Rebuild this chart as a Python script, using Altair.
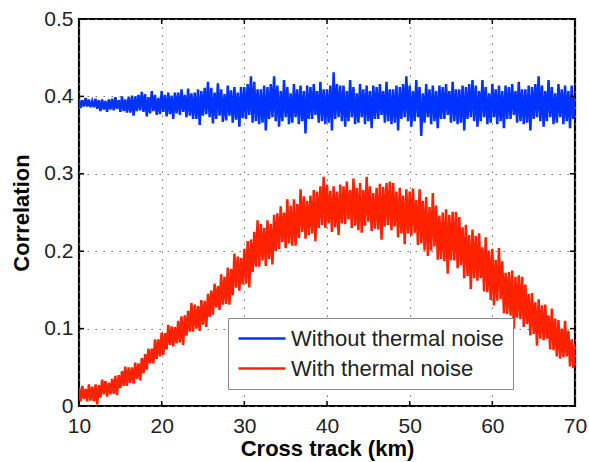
import altair as alt
import pandas as pd

# Cross-track sampling: first sample at 10 km, one sample every 0.2 km up to 70 km
x_start_km = 10.0
x_step_km = 0.2

series_names = ["Without thermal noise", "With thermal noise"]
series_colors = ["#0033FF", "#FF2200"]

x_ticks = [10, 20, 30, 40, 50, 60, 70]
y_ticks = [0, 0.1, 0.2, 0.3, 0.4, 0.5]

# Correlation without thermal noise
without_noise = [
    0.396, 0.385, 0.395, 0.387, 0.398, 0.387, 0.396, 0.386, 0.394, 0.386,
    0.397, 0.384, 0.395, 0.381, 0.396, 0.383, 0.394, 0.380, 0.396, 0.383,
    0.397, 0.382, 0.399, 0.384, 0.395, 0.380, 0.400, 0.381, 0.396, 0.379,
    0.399, 0.379, 0.401, 0.375, 0.400, 0.381, 0.402, 0.382, 0.406, 0.380,
    0.403, 0.374, 0.399, 0.378, 0.407, 0.381, 0.402, 0.376, 0.398, 0.377,
    0.407, 0.380, 0.402, 0.374, 0.405, 0.377, 0.401, 0.371, 0.405, 0.378,
    0.405, 0.376, 0.409, 0.380, 0.402, 0.373, 0.410, 0.375, 0.404, 0.371,
    0.405, 0.371, 0.409, 0.363, 0.407, 0.375, 0.411, 0.377, 0.419, 0.373,
    0.411, 0.365, 0.405, 0.371, 0.417, 0.375, 0.409, 0.367, 0.403, 0.369,
    0.414, 0.375, 0.408, 0.366, 0.412, 0.370, 0.405, 0.361, 0.412, 0.372,
    0.412, 0.371, 0.416, 0.376, 0.426, 0.366, 0.419, 0.368, 0.409, 0.364,
    0.409, 0.366, 0.414, 0.356, 0.412, 0.371, 0.416, 0.373, 0.426, 0.368,
    0.414, 0.361, 0.407, 0.368, 0.421, 0.373, 0.412, 0.364, 0.404, 0.366,
    0.416, 0.373, 0.409, 0.364, 0.414, 0.368, 0.407, 0.352, 0.414, 0.371,
    0.412, 0.371, 0.416, 0.376, 0.407, 0.366, 0.419, 0.368, 0.409, 0.364,
    0.409, 0.366, 0.414, 0.356, 0.431, 0.371, 0.416, 0.373, 0.414, 0.368,
    0.414, 0.361, 0.407, 0.368, 0.421, 0.373, 0.412, 0.364, 0.404, 0.366,
    0.416, 0.373, 0.409, 0.364, 0.414, 0.368, 0.407, 0.359, 0.414, 0.371,
    0.412, 0.371, 0.416, 0.376, 0.407, 0.366, 0.419, 0.368, 0.409, 0.364,
    0.409, 0.366, 0.414, 0.356, 0.412, 0.371, 0.416, 0.373, 0.426, 0.368,
    0.414, 0.361, 0.407, 0.368, 0.421, 0.373, 0.412, 0.349, 0.404, 0.366,
    0.416, 0.373, 0.409, 0.364, 0.414, 0.368, 0.407, 0.359, 0.414, 0.371,
    0.412, 0.371, 0.416, 0.376, 0.407, 0.366, 0.419, 0.368, 0.409, 0.364,
    0.409, 0.366, 0.414, 0.356, 0.412, 0.371, 0.416, 0.373, 0.421, 0.368,
    0.414, 0.361, 0.407, 0.368, 0.421, 0.373, 0.412, 0.364, 0.404, 0.366,
    0.416, 0.373, 0.409, 0.364, 0.414, 0.368, 0.407, 0.359, 0.414, 0.371,
    0.412, 0.371, 0.416, 0.376, 0.407, 0.366, 0.419, 0.368, 0.409, 0.364,
    0.409, 0.366, 0.414, 0.356, 0.412, 0.371, 0.416, 0.373, 0.426, 0.368,
    0.414, 0.361, 0.407, 0.368, 0.421, 0.373, 0.412, 0.364, 0.404, 0.366,
    0.416, 0.373, 0.409, 0.364, 0.414, 0.368, 0.407, 0.359, 0.414, 0.371,
    0.402,
]

# Correlation with thermal noise
with_noise = [
    0.023, 0.006, 0.026, 0.009, 0.022, 0.006, 0.028, 0.007, 0.025, 0.006,
    0.028, 0.002, 0.027, 0.011, 0.034, 0.015, 0.032, 0.012, 0.030, 0.015,
    0.035, 0.016, 0.039, 0.014, 0.040, 0.023, 0.045, 0.026, 0.051, 0.026,
    0.050, 0.030, 0.050, 0.029, 0.056, 0.035, 0.055, 0.033, 0.062, 0.042,
    0.067, 0.047, 0.074, 0.055, 0.074, 0.055, 0.086, 0.061, 0.086, 0.064,
    0.095, 0.066, 0.094, 0.073, 0.105, 0.079, 0.103, 0.077, 0.102, 0.081,
    0.110, 0.082, 0.116, 0.079, 0.117, 0.091, 0.123, 0.096, 0.133, 0.096,
    0.131, 0.100, 0.129, 0.097, 0.137, 0.105, 0.136, 0.102, 0.145, 0.115,
    0.149, 0.118, 0.158, 0.127, 0.155, 0.124, 0.170, 0.131, 0.167, 0.132,
    0.179, 0.131, 0.177, 0.143, 0.197, 0.153, 0.193, 0.149, 0.191, 0.157,
    0.203, 0.158, 0.213, 0.153, 0.215, 0.173, 0.225, 0.180, 0.240, 0.180,
    0.235, 0.188, 0.230, 0.181, 0.240, 0.190, 0.235, 0.183, 0.247, 0.200,
    0.249, 0.203, 0.258, 0.212, 0.250, 0.204, 0.267, 0.210, 0.259, 0.207,
    0.267, 0.207, 0.261, 0.217, 0.280, 0.225, 0.271, 0.216, 0.265, 0.221,
    0.272, 0.223, 0.279, 0.213, 0.277, 0.230, 0.284, 0.234, 0.296, 0.230,
    0.286, 0.236, 0.278, 0.225, 0.284, 0.231, 0.277, 0.221, 0.286, 0.236,
    0.284, 0.235, 0.290, 0.241, 0.279, 0.230, 0.294, 0.233, 0.282, 0.227,
    0.288, 0.224, 0.279, 0.233, 0.296, 0.238, 0.284, 0.226, 0.275, 0.229,
    0.282, 0.228, 0.287, 0.215, 0.283, 0.232, 0.288, 0.234, 0.290, 0.227,
    0.288, 0.232, 0.277, 0.218, 0.282, 0.223, 0.272, 0.209, 0.280, 0.223,
    0.277, 0.220, 0.281, 0.224, 0.266, 0.208, 0.280, 0.210, 0.265, 0.201,
    0.270, 0.194, 0.257, 0.201, 0.275, 0.206, 0.259, 0.189, 0.246, 0.190,
    0.250, 0.187, 0.254, 0.171, 0.247, 0.188, 0.251, 0.188, 0.251, 0.178,
    0.244, 0.182, 0.231, 0.165, 0.234, 0.168, 0.221, 0.151, 0.228, 0.165,
    0.220, 0.162, 0.223, 0.165, 0.205, 0.148, 0.218, 0.147, 0.201, 0.137,
    0.203, 0.130, 0.189, 0.136, 0.204, 0.138, 0.187, 0.120, 0.172, 0.119,
    0.173, 0.117, 0.175, 0.100, 0.167, 0.114, 0.169, 0.112, 0.167, 0.102,
    0.157, 0.106, 0.145, 0.091, 0.146, 0.093, 0.134, 0.078, 0.138, 0.087,
    0.130, 0.085, 0.131, 0.087, 0.117, 0.073, 0.126, 0.072, 0.113, 0.064,
    0.111, 0.061, 0.100, 0.063, 0.110, 0.064, 0.097, 0.051, 0.086, 0.049,
    0.080,
]

km = [round(x_start_km + x_step_km * i, 2) for i in range(len(with_noise))]

rows = []
for name, values in zip(series_names, [without_noise, with_noise]):
    for i, (k, v) in enumerate(zip(km, values)):
        rows.append({"km": k, "corr": v, "series": name, "idx": i})
df = pd.DataFrame(rows)

W, H = 496, 387
FONT = "Liberation Sans"
TICK_LEN = 5

xscale = alt.Scale(domain=[10, 70], nice=False, zero=False)
yscale = alt.Scale(domain=[0, 0.5], nice=False, zero=False)

x_axis = alt.Axis(values=x_ticks, title="Cross track (km)", format="d",
                  grid=True, ticks=False, domain=False,
                  labelFlush=False, labelOverlap=False,
                  labelPadding=9, titlePadding=2)
y_axis = alt.Axis(values=y_ticks, title="Correlation",
                  labelExpr="datum.value == 0 ? '0' : format(datum.value, '.1f')",
                  grid=True, ticks=False, domain=False,
                  labelFlush=False, labelOverlap=False,
                  labelPadding=6, titlePadding=10)

lines = alt.Chart(df).mark_line(strokeWidth=2.5, clip=True).encode(
    x=alt.X("km:Q", scale=xscale, axis=x_axis),
    y=alt.Y("corr:Q", scale=yscale, axis=y_axis),
    color=alt.Color("series:N",
                    scale=alt.Scale(domain=series_names, range=series_colors),
                    legend=alt.Legend(title=None, orient="none",
                                      legendX=149, legendY=299,
                                      symbolType="M-1,0L3.7,0", symbolSize=400,
                                      symbolStrokeWidth=2.5,
                                      labelFontSize=22, labelFont=FONT,
                                      labelColor="#222222", labelOffset=31,
                                      rowPadding=7, padding=9,
                                      strokeColor="#888888", fillColor="white",
                                      labelLimit=400)),
    detail="series:N",
    order="idx:Q",
)

xt = pd.DataFrame({"t": x_ticks})
yt = pd.DataFrame({"t": y_ticks})

tick_bottom = alt.Chart(xt).mark_rule(color="black", strokeWidth=1.5).encode(
    x=alt.X("t:Q", scale=xscale, axis=x_axis), y=alt.value(H), y2=alt.value(H - TICK_LEN))
tick_top = alt.Chart(xt).mark_rule(color="black", strokeWidth=1.5).encode(
    x=alt.X("t:Q", scale=xscale, axis=x_axis), y=alt.value(0), y2=alt.value(TICK_LEN))
tick_left = alt.Chart(yt).mark_rule(color="black", strokeWidth=1.5).encode(
    y=alt.Y("t:Q", scale=yscale, axis=y_axis), x=alt.value(0), x2=alt.value(TICK_LEN))
tick_right = alt.Chart(yt).mark_rule(color="black", strokeWidth=1.5).encode(
    y=alt.Y("t:Q", scale=yscale, axis=y_axis), x=alt.value(W), x2=alt.value(W - TICK_LEN))

chart = alt.layer(lines, tick_bottom, tick_top, tick_left, tick_right).properties(
    width=W, height=H,
    autosize=alt.AutoSizeParams(type="none"),
    padding={"left": 79, "top": 19, "right": 14, "bottom": 56},
    background="white",
).configure_view(
    stroke="black", strokeWidth=2.2
).configure_axis(
    labelFont=FONT, labelFontSize=21, labelColor="#222222",
    titleFont=FONT, titleFontSize=22, titleFontWeight="bold", titleColor="black",
    gridColor="#777777", gridDash=[1.5, 6.5], gridWidth=1, gridOpacity=1,
)

chart.save("out.html", embed_options={"renderer": "svg", "actions": False})
